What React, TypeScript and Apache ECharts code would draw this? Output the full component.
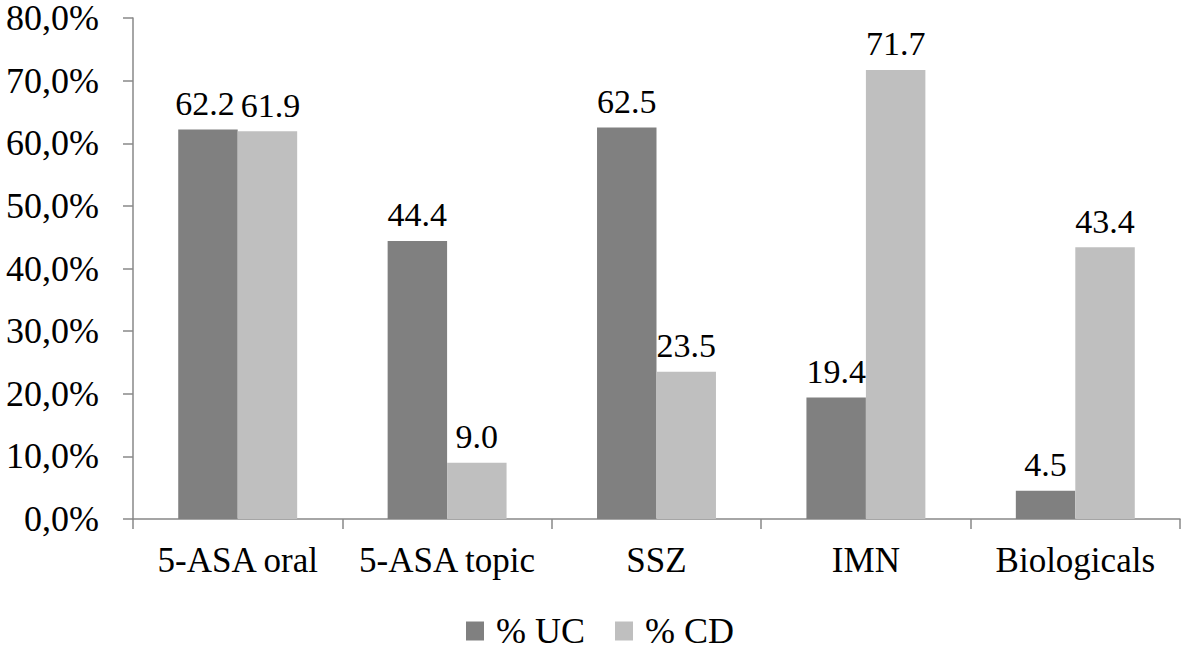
import React, { useEffect, useRef } from "react";
import * as echarts from "echarts";

const categories = ["5-ASA oral", "5-ASA topic", "SSZ", "IMN", "Biologicals"];
const ucValues = [62.2, 44.4, 62.5, 19.4, 4.5];
const cdValues = [61.9, 9.0, 23.5, 71.7, 43.4];
const seriesNames = ["% UC", "% CD"];

const FONT = "Liberation Serif, Times New Roman, serif";

export default function App() {
  const ref = useRef<HTMLDivElement>(null);
  useEffect(() => {
    if (!ref.current) return;
    const chart = echarts.init(ref.current, null, { renderer: "svg" });
    const label = {
      show: true,
      position: "top",
      distance: 9,
      color: "#000",
      fontFamily: FONT,
      fontSize: 34,
      formatter: (p: any) => Number(p.value).toFixed(1),
    };
    const withOffset = (vals: number[], dx: number) =>
      vals.map((v, i) => (i === 0 ? { value: v, label: { offset: [dx, 0] } } : v));
    chart.setOption({
      animation: false,
      backgroundColor: "#fff",
      textStyle: { fontFamily: FONT },
      grid: { left: 133, right: 1, top: 17, bottom: 130, containLabel: false },
      legend: {
        top: 613,
        left: 466,
        padding: 0,
        itemWidth: 18,
        itemHeight: 19,
        itemGap: 30,
        icon: "rect",
        textStyle: {
          fontFamily: FONT,
          fontSize: 36,
          lineHeight: 32,
          color: "#000",
          padding: [0, 0, 0, 7],
        },
        data: seriesNames,
      },
      xAxis: {
        type: "category",
        data: categories,
        axisLine: { lineStyle: { color: "#888", width: 1.5 } },
        axisTick: { show: true, length: 10, lineStyle: { color: "#888", width: 1.5 } },
        axisLabel: { color: "#000", fontFamily: FONT, fontSize: 35, margin: 24, interval: 0 },
      },
      yAxis: {
        type: "value",
        min: 0,
        max: 80,
        interval: 10,
        splitLine: { show: false },
        axisLine: { show: true, lineStyle: { color: "#888", width: 1.5 } },
        axisTick: { show: true, length: 10, lineStyle: { color: "#888", width: 1.5 } },
        axisLabel: {
          color: "#000",
          fontFamily: FONT,
          fontSize: 36,
          lineHeight: 30,
          margin: 34,
          formatter: (v: number) => v.toFixed(1).replace(".", ",") + "%",
        },
      },
      series: [
        {
          name: seriesNames[0],
          type: "bar",
          data: withOffset(ucValues, -3),
          barWidth: "28.4%",
          barGap: "0%",
          itemStyle: { color: "#808080" },
          label,
        },
        {
          name: seriesNames[1],
          type: "bar",
          data: withOffset(cdValues, 3),
          barWidth: "28.4%",
          barGap: "0%",
          itemStyle: { color: "#bfbfbf" },
          label,
        },
      ],
    });
    return () => chart.dispose();
  }, []);
  return (
    <div
      ref={ref}
      style={{ position: "fixed", left: 0, top: 0, width: 1181, height: 649, background: "#fff" }}
    />
  );
}
